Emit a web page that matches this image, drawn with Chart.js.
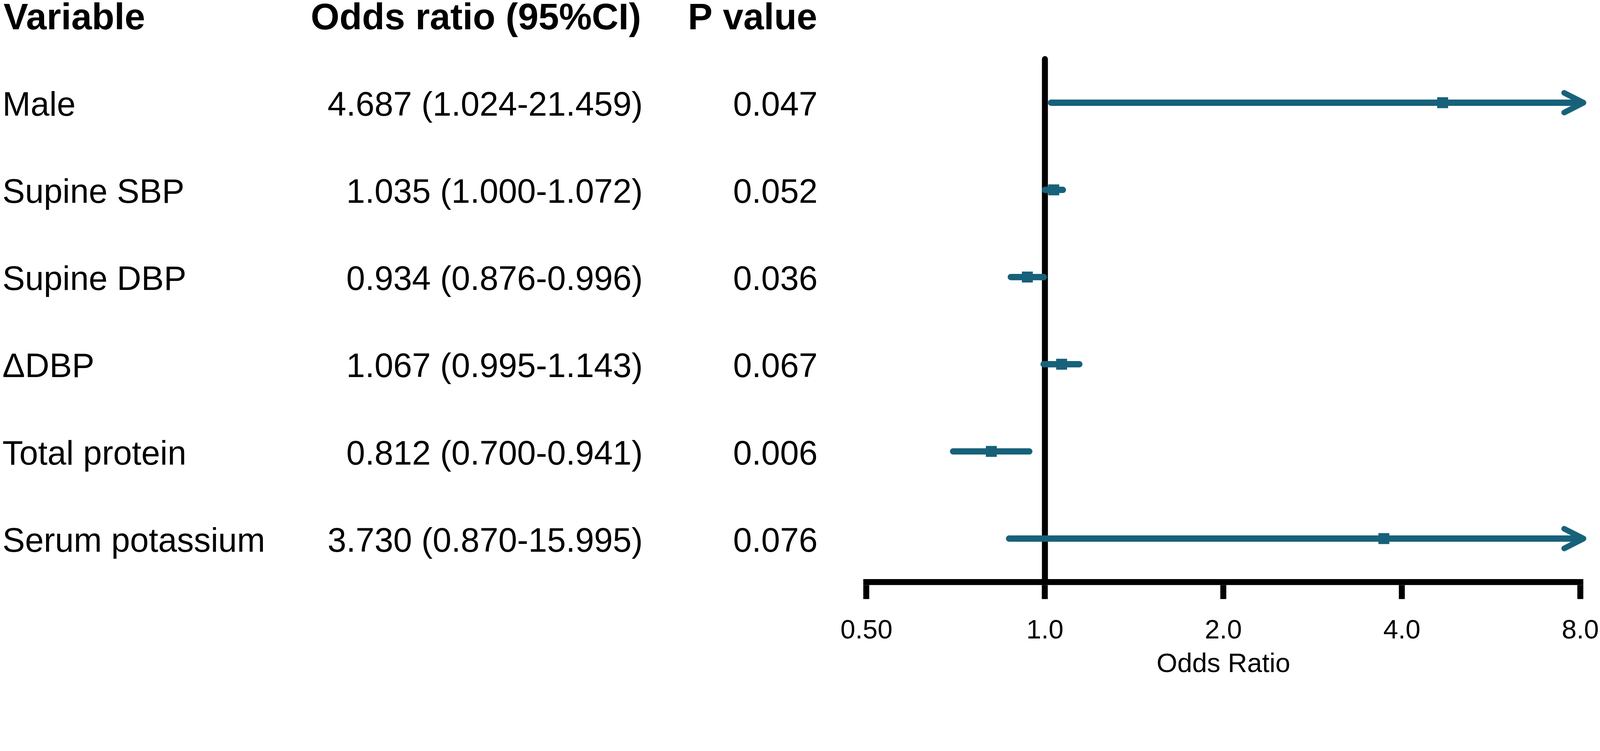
<!DOCTYPE html>
<html>
<head>
<meta charset="utf-8">
<script src="https://cdn.jsdelivr.net/npm/chart.js@4.4.1/dist/chart.umd.min.js"></script>
<style>
    html, body { margin:0; padding:0; background:#fff; overflow:hidden; }
    #wrap { position:relative; }
</style>
</head>
<body>
<div id="wrap"><canvas id="forest"></canvas></div>
<script>
// Table rows
const variables = ['Male', 'Supine SBP', 'Supine DBP', 'ΔDBP', 'Total protein', 'Serum potassium'];
const oddsRatio = [4.687, 1.035, 0.934, 1.067, 0.812, 3.730];
const ciLower   = [1.024, 1.000, 0.876, 0.995, 0.700, 0.870];
const ciUpper   = [21.459, 1.072, 0.996, 1.143, 0.941, 15.995];
const pValues   = [0.047, 0.052, 0.036, 0.067, 0.006, 0.076];
const headers   = ['Variable', 'Odds ratio (95%CI)', 'P value'];

// X axis
const tickValues = [0.5, 1, 2, 4, 8];
const tickLabels = ['0.50', '1.0', '2.0', '4.0', '8.0'];
const xMin = 0.5, xMax = 8, refValue = 1;

const teal = '#17617a';
const family = "'Liberation Sans', Arial, sans-serif";

// layout is designed on a 4550x1922 page, scaled to the real viewport
const k = Math.min(window.innerWidth / 4550, window.innerHeight / 1922);
const u = v => v * k;
const wrap = document.getElementById('wrap');
wrap.style.width = u(4550) + 'px';
wrap.style.height = u(1922) + 'px';

// Open arrow head used where the CI runs past the axis
function makeArrowHead() {
    const c = document.createElement('canvas');
    c.width = u(140); c.height = u(90);
    const g = c.getContext('2d');
    g.strokeStyle = teal; g.lineWidth = u(16);
    g.lineCap = 'round'; g.lineJoin = 'round';
    g.beginPath(); g.moveTo(u(24), u(17)); g.lineTo(u(79), u(45)); g.lineTo(u(24), u(73)); g.stroke();
    return c;
}

const ciSets = variables.map((v, i) => ({
    label: v,
    data: [{x: ciLower[i], y: i}, {x: Math.min(ciUpper[i], xMax), y: i}],
    borderColor: teal, borderWidth: u(18), borderCapStyle: 'round',
    pointRadius: 0, clip: false, order: 2
}));

const pointSet = {
    label: 'OR',
    data: oddsRatio.map((v, i) => ({x: v, y: i})),
    showLine: false, pointStyle: 'rect', pointRadius: u(22),
    pointBackgroundColor: teal, pointBorderWidth: 0, clip: false, order: 1
};

const arrowSet = {
    label: 'arrows',
    data: variables.map((v, i) => ciUpper[i] > xMax ? {x: xMax, y: i} : null).filter(d => d),
    showLine: false, pointStyle: makeArrowHead(), pointRadius: u(10), clip: false, order: 1
};

const refSet = {
    label: 'ref',
    data: [{x: refValue, y: -0.5}, {x: refValue, y: variables.length - 0.5}],
    borderColor: '#000', borderWidth: u(17), borderCapStyle: 'round',
    pointRadius: 0, clip: false, order: 5
};

// Text columns on the left
const tablePlugin = {
    id: 'table',
    afterDraw(chart) {
        const ctx = chart.ctx, y = chart.scales.y;
        ctx.save();
        ctx.fillStyle = '#000';
        ctx.textBaseline = 'alphabetic';

        const hy = y.getPixelForValue(-1) + u(39);
        ctx.font = `bold ${u(105)}px ${family}`;
        ctx.textAlign = 'left';  ctx.fillText(headers[0], u(10), hy);
        ctx.textAlign = 'right'; ctx.fillText(headers[1], u(1823), hy);
        ctx.fillText(headers[2], u(2324), hy);

        ctx.font = `${u(96)}px ${family}`;
        variables.forEach((v, i) => {
            const ry = y.getPixelForValue(i) + u(37);
            ctx.textAlign = 'left';
            ctx.fillText(v, u(7), ry);
            ctx.textAlign = 'right';
            ctx.fillText(`${oddsRatio[i].toFixed(3)} (${ciLower[i].toFixed(3)}-${ciUpper[i].toFixed(3)})`, u(1828), ry);
            ctx.fillText(pValues[i].toFixed(3), u(2325), ry);
        });
        ctx.restore();
    }
};

new Chart(document.getElementById('forest'), {
    type: 'line',
    data: { datasets: [...ciSets, pointSet, arrowSet, refSet] },
    options: {
        responsive: true, maintainAspectRatio: false, animation: false,
        layout: { padding: { top: u(168), left: u(2464), right: u(56), bottom: 0 } },
        plugins: { legend: { display: false }, tooltip: { enabled: false } },
        scales: {
            x: {
                type: 'logarithmic', min: xMin, max: xMax,
                afterBuildTicks: s => { s.ticks = tickValues.map(v => ({ value: v })); },
                ticks: {
                    callback: (v, i) => tickLabels[i],
                    autoSkip: false, maxRotation: 0, padding: 0,
                    color: '#000', font: { family, size: u(76), lineHeight: 2.395 }
                },
                grid: { drawOnChartArea: false, drawTicks: true, tickLength: u(48), lineWidth: u(17), color: '#000' },
                border: { display: true, width: u(17), color: '#000' },
                title: {
                    display: true, text: 'Odds Ratio', color: '#000',
                    font: { family, size: u(76), lineHeight: 0.13 },
                    padding: { top: 0, bottom: u(27) }
                }
            },
            y: { type: 'linear', min: -0.5, max: variables.length - 0.5, reverse: true, display: false }
        }
    },
    plugins: [tablePlugin]
});
</script>
</body>
</html>
